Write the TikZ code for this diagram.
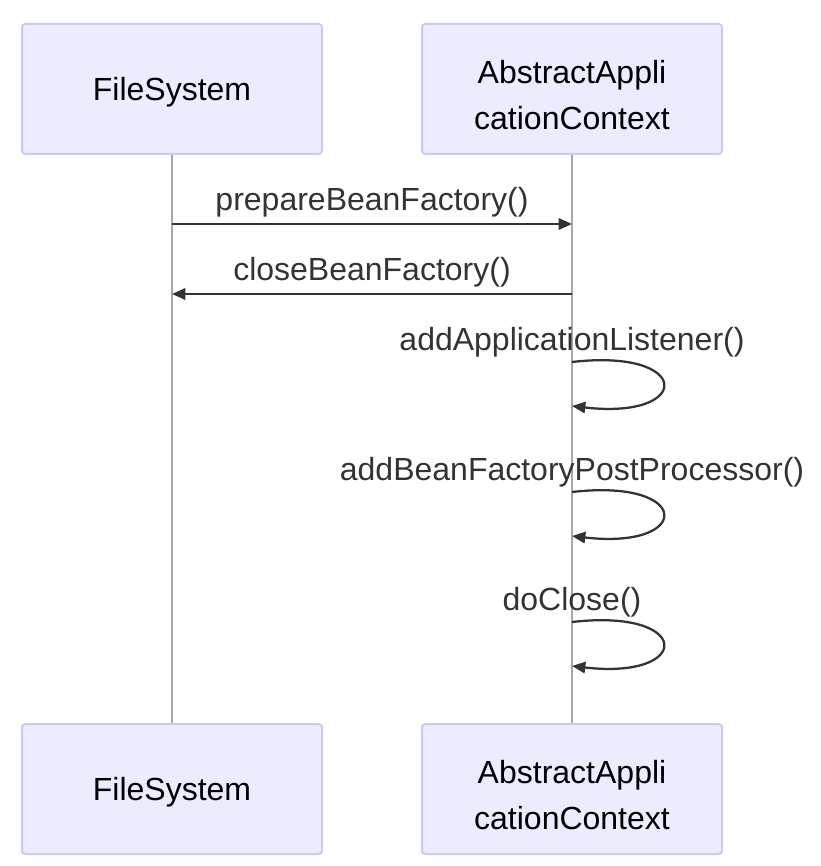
\documentclass[tikz,border=0pt]{standalone}
\usepackage{fontspec}
\setmainfont{Liberation Sans}
\usetikzlibrary{arrows.meta}
\definecolor{boxfill}{HTML}{ECECFF}
\definecolor{boxline}{HTML}{CACAF8}
\definecolor{lifeline}{HTML}{A8A8A8}
\definecolor{msg}{HTML}{333333}
\tikzset{
  actor/.style={draw=boxline, fill=boxfill, line width=1.5pt, rounded corners=2.5pt,
    minimum width=225pt, minimum height=97.5pt, inner sep=0pt, align=center,
    font=\fontsize{24}{34.5}\selectfont, text=black},
  actortext/.style={inner sep=0pt, align=center, font=\fontsize{24}{34.5}\selectfont, text=black},
  life/.style={draw=lifeline, line width=0.9pt},
  msgline/.style={draw=msg, line width=1.7pt, -{Triangle[length=10pt,width=8.5pt]}},
  msglabel/.style={font=\fontsize{24}{28}\selectfont, text=msg, inner sep=0pt}
}
\begin{document}
\begin{tikzpicture}[x=0.75pt,y=-0.75pt]
\useasboundingbox (0,0) rectangle (820,866);
% actors
\node[actor] (fsT) at (172,89) {};
\node[actor] (acT) at (572,89) {};
\node[actor] (fsB) at (172,789) {};
\node[actor] (acB) at (572,789) {};
\node[actortext] (fsTt) at (172,92) {FileSystem};
\node[actortext] (acTt) at (572,95) {AbstractAppli\\cationContext};
\node[actortext] (fsBt) at (172,792) {FileSystem};
\node[actortext] (acBt) at (572,795) {AbstractAppli\\cationContext};
% lifelines
\draw[life] (fsT.south) -- (fsB.north);
\draw[life] (acT.south) -- (acB.north);
% message coordinates
\coordinate (m1a) at (172,224); \coordinate (m1b) at (572,224);
\coordinate (m2a) at (572,294); \coordinate (m2b) at (172,294);
\coordinate (l1a) at (572,362); \coordinate (l1b) at (572,406);
\coordinate (l2a) at (572,492); \coordinate (l2b) at (572,536);
\coordinate (l3a) at (572,622); \coordinate (l3b) at (572,666);
% messages
\draw[msgline] (m1a) -- (m1b);
\node[msglabel] (t1) at (372,202) {prepareBeanFactory()};
\draw[msgline] (m2a) -- (m2b);
\node[msglabel] (t2) at (372,272) {closeBeanFactory()};
% self loops
\draw[msgline] (l1a) .. controls (693,348) and (693,420) .. (l1b);
\node[msglabel] (t3) at (572,342) {addApplicationListener()};
\draw[msgline] (l2a) .. controls (693,478) and (693,550) .. (l2b);
\node[msglabel] (t4) at (572,472) {addBeanFactoryPostProcessor()};
\draw[msgline] (l3a) .. controls (693,608) and (693,680) .. (l3b);
\node[msglabel] (t5) at (572,602) {doClose()};
\end{tikzpicture}
\end{document}
